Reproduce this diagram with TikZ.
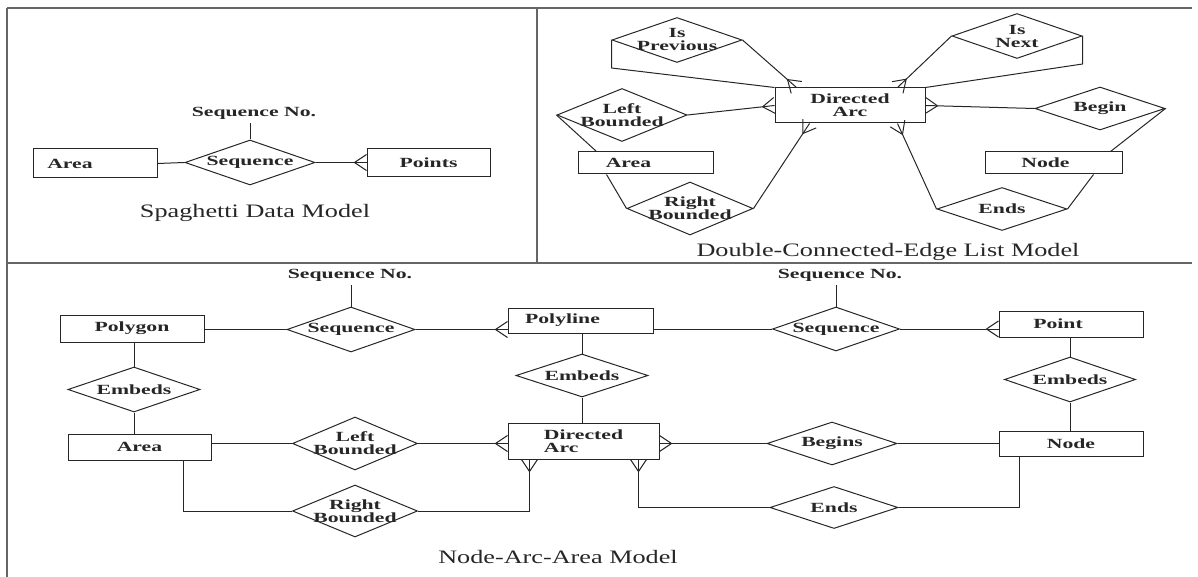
\documentclass[tikz,border=0pt]{standalone}
\usepackage{fontspec}
\setmainfont{Liberation Serif}[FakeStretch=1.38]
\newfontfamily\lblfont{Liberation Serif}[FakeStretch=1.55]
\usetikzlibrary{shapes.geometric,calc}

\tikzset{
  lbl/.style={font=\lblfont\fontsize{14}{13}\selectfont\bfseries, align=center},
  ent/.style={draw, rectangle, inner sep=2pt, minimum width=144pt, minimum height=26pt, lbl},
  rel/.style={draw, diamond, inner sep=0pt, minimum width=130pt, minimum height=45pt,
    label={[lbl]center:#1}},
  relt/.style={rel={#1}, minimum height=53pt},
  attr/.style={lbl},
  modelcap/.style={font=\fontsize{19}{21}\selectfont},
  panel/.style={line width=1.4pt, black!60}
}

% three prongs from a point on the line to the entity edge
\newcommand{\crowsfoot}[2]{%
  \draw ($(#1)!12pt!(#2)$) -- ($(#1)!8pt!90:(#2)$)
        ($(#1)!12pt!(#2)$) -- ($(#1)!8pt!-90:(#2)$);}

\begin{document}
\begin{tikzpicture}[x=1pt, y=-1pt, line width=1pt, color=black!85]
\useasboundingbox (0,0) rectangle (1198,577);

% panels
\draw[panel] (7,8) -- (1192,8) (7,8) -- (7,577) (7,263) -- (1192,263) (537,8) -- (537,263);

% spaghetti data model
\node[ent, minimum width=124pt, minimum height=29pt] (areaS) at (95,163.5) {Area\hspace{50pt}};
\node[attr] (sqnoS) at (254,113) {Sequence No.};
\node[rel=Sequence] (seqS) at (250,162.5) {};
\node[ent, minimum width=123pt, minimum height=28pt] (points) at (428.5,163) {Points};
\draw (areaS.east) -- (seqS.west);
\draw (seqS.north) -- (seqS.north |- sqnoS.south);
\draw (seqS.east) -- (seqS.east -| points.west) coordinate (cfS);
\crowsfoot{cfS}{seqS.east}
\node[modelcap] (capS) at (255,213) {Spaghetti Data Model};

% double-connected-edge list model
\node[ent, minimum width=150pt, minimum height=35pt] (arcD) at (850,105.5) {Directed\\Arc};
\node[rel={Is\\Previous}] (prevD) at (677,40) {};
\node[rel={Is\\Next}] (nextD) at (1017,36) {};
\node[relt={Left\\Bounded}] (leftD) at (622,115) {};
\node[ent, minimum width=135pt, minimum height=22pt] (areaD) at (645.5,163) {Area\hspace{34pt}};
\node[relt={Right\\Bounded}, minimum width=126pt] (rightD) at (690,208.5) {};
\node[rel=Begin, minimum height=43pt] (beginD) at (1100,108.5) {};
\node[ent, minimum width=137pt, minimum height=22pt] (nodeD) at (1053.5,163) {Node\hspace{16pt}};
\node[rel=Ends, minimum height=43pt] (endsD) at (1002,209) {};

\draw (prevD.west) -- ++(0,28) -- (arcD.north west);
\draw (prevD.east) -- ($(arcD.north west)+(22,0)$) coordinate (cf1);
\crowsfoot{cf1}{prevD.east}
\draw (nextD.east) -- ++(0,28) -- (arcD.north east);
\draw (nextD.west) -- ($(arcD.north east)+(-28,0)$) coordinate (cf2);
\crowsfoot{cf2}{nextD.west}
\draw (leftD.east) -- (arcD.west);
\crowsfoot{arcD.west}{leftD.east}
\draw (leftD.west) -- ($(areaD.north west)+(19,0)$);
\draw ($(areaD.south west)+(29,0)$) -- (rightD.west);
\draw (rightD.east) -- ($(arcD.south west)+(35,0)$) coordinate (cf3);
\crowsfoot{cf3}{rightD.east}
\draw (arcD.east) -- (beginD.west);
\crowsfoot{arcD.east}{beginD.west}
\draw (beginD.east) -- ($(nodeD.north east)+(-12,0)$);
\draw ($(nodeD.south east)+(-29,0)$) -- (endsD.east);
\draw (endsD.west) -- ($(arcD.south east)+(-28,0)$) coordinate (cf4);
\crowsfoot{cf4}{endsD.west}
\node[modelcap] (capD) at (888,252) {Double-Connected-Edge List Model};

% node-arc-area model
\node[attr] (sqnoA) at (350,275) {Sequence No.};
\node[attr] (sqnoB) at (840,275) {Sequence No.};
\node[ent, minimum height=27pt] (polygon) at (132,328.5) {Polygon};
\node[rel=Sequence, minimum width=128pt] (seqA) at (351,329.5) {};
\node[ent, minimum width=145pt, minimum height=25pt] (polyline) at (580.5,320.5) {Polyline\hspace{36pt}};
\node[rel=Sequence, minimum width=127pt, minimum height=44pt] (seqB) at (836,329) {};
\node[ent] (point) at (1071,324) {Point\hspace{26pt}};
\node[rel=Embeds, minimum width=132pt] (embA) at (134,389.5) {};
\node[rel=Embeds, minimum width=132pt, minimum height=43pt] (embB) at (582,375.5) {};
\node[rel=Embeds, minimum width=131pt] (embC) at (1070,379.5) {};
\node[ent, minimum width=143pt] (areaN) at (139.5,447) {Area};
\node[relt={Left\\Bounded}, minimum width=125pt] (leftN) at (355,443.5) {};
\node[relt={Right\\Bounded}, minimum width=125pt, minimum height=52pt] (rightN) at (355,511) {};
\node[ent, minimum width=151pt, minimum height=36pt, align=left] (arcN) at (583.5,441) {Directed\\Arc};
\node[rel=Begins, minimum height=43pt] (beginN) at (832,443.5) {};
\node[rel=Ends, minimum width=128pt, minimum height=42pt] (endsN) at (834,507.5) {};
\node[ent, minimum height=25pt] (nodeN) at (1071,443.5) {Node};

\draw (seqA.north) -- (seqA.north |- sqnoA.south);
\draw (seqB.north) -- (seqB.north |- sqnoB.south);
\draw (polygon.east |- seqA.west) -- (seqA.west);
\draw (seqA.east) -- (seqA.east -| polyline.west) coordinate (cf5);
\crowsfoot{cf5}{seqA.east}
\draw (polyline.east |- seqB.west) -- (seqB.west);
\draw (seqB.east) -- (seqB.east -| point.west) coordinate (cf6);
\crowsfoot{cf6}{seqB.east}
\draw (polygon.south -| embA.north) -- (embA.north);
\draw (embA.south) -- (embA.south |- areaN.north);
\draw (polyline.south -| embB.north) -- (embB.north);
\draw (embB.south) -- (embB.south |- arcN.north);
\draw (point.south -| embC.north) -- (embC.north);
\draw (embC.south) -- (embC.south |- nodeN.north);
\draw (areaN.east |- leftN.west) -- (leftN.west);
\draw (leftN.east) -- (leftN.east -| arcN.west) coordinate (cf7);
\crowsfoot{cf7}{leftN.east}
\draw ($(areaN.south east)+(-28,0)$) |- (rightN.west);
\coordinate (cf8) at ($(arcN.south west)+(22,0)$);
\coordinate (bn8) at (cf8 |- rightN.east);
\draw (rightN.east) -- (bn8) -- (cf8);
\crowsfoot{cf8}{bn8}
\draw (arcN.east |- beginN.west) coordinate (cf10) -- (beginN.west);
\crowsfoot{cf10}{beginN.west}
\draw (beginN.east) -- (beginN.east -| nodeN.west);
\coordinate (cf9) at ($(arcN.south east)+(-21,0)$);
\coordinate (bn9) at (cf9 |- endsN.west);
\draw (cf9) -- (bn9) -- (endsN.west);
\crowsfoot{cf9}{bn9}
\draw (endsN.east) -| ($(nodeN.south west)+(21,0)$);
\node[modelcap] (capN) at (558,557) {Node-Arc-Area Model};
\end{tikzpicture}
\end{document}
